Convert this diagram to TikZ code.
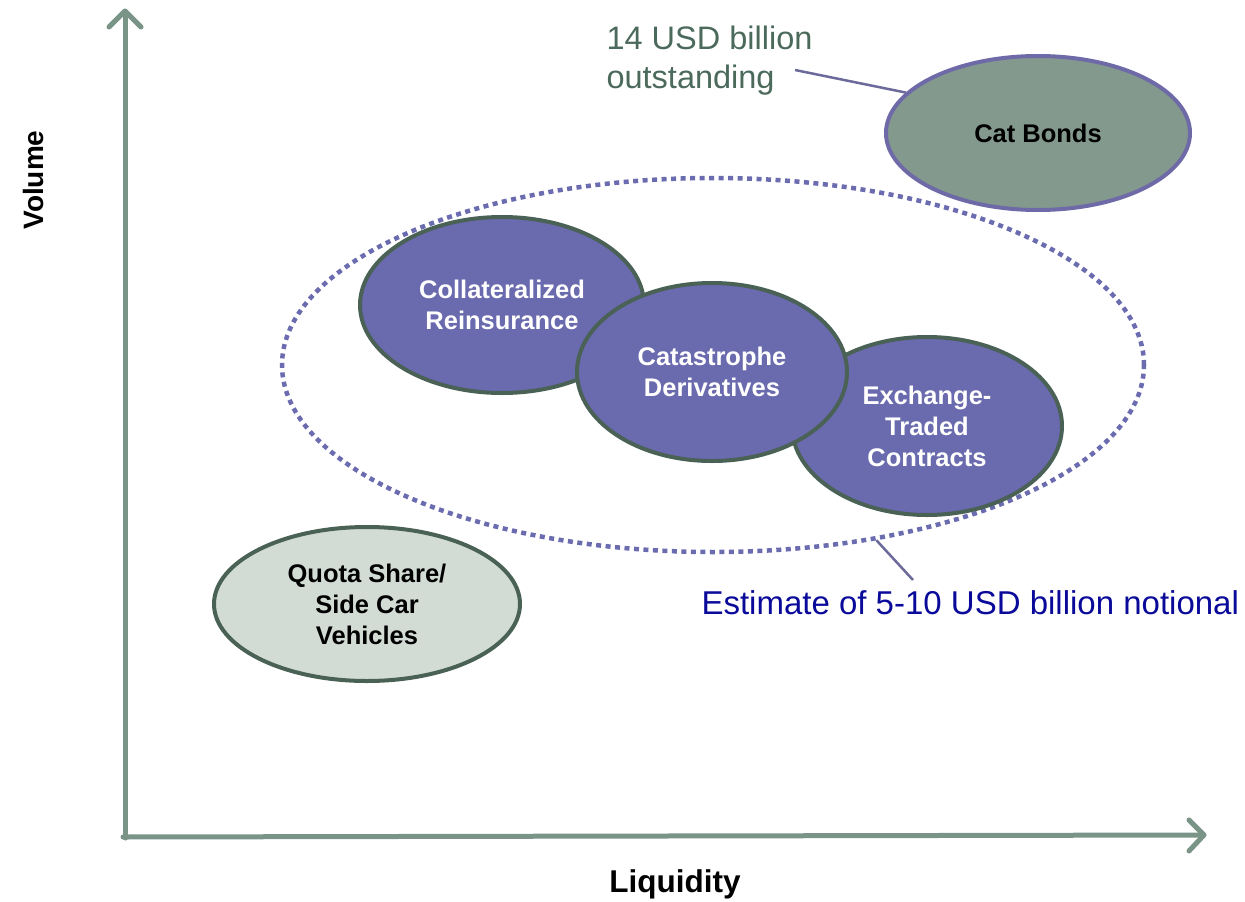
\documentclass[tikz,border=0pt]{standalone}
\usepackage{fontspec}
\setmainfont{Liberation Sans}
\usetikzlibrary{shapes.geometric}
\definecolor{axisgreen}{HTML}{7A9488}
\definecolor{rimgreen}{HTML}{4A6156}
\definecolor{bondfill}{HTML}{84998D}
\definecolor{rimpurple}{HTML}{6E6AA8}
\definecolor{violetfill}{HTML}{6A6AAE}
\definecolor{palefill}{HTML}{D2DCD5}
\definecolor{notegreen}{HTML}{4B6A5C}
\definecolor{navy}{HTML}{0A0A9A}
\definecolor{dotpurple}{HTML}{6B6BB0}
\definecolor{leader}{HTML}{6B6A9A}
\begin{document}
\begin{tikzpicture}[x=1pt,y=-1pt,
  axis/.style={draw=axisgreen,line width=5pt,line cap=round,line join=round},
  blob/.style={ellipse,inner sep=0pt,line width=4pt,align=center,
    font=\fontsize{25.5}{31}\selectfont\bfseries},
  market/.style={blob,fill=violetfill,draw=rimgreen,text=white},
  axislabel/.style={font=\fontsize{31.5}{36}\selectfont\bfseries,text=black},
  leaderline/.style={draw=leader,line width=2.5pt}]
\useasboundingbox (0,0) rectangle (1245,902);

% axes with open chevron heads
\draw[axis] (125,838) -- (125,12);
\draw[axis] (109,27) -- (125,11) -- (141,27);
\draw[axis] (123,837) -- (1203,835);
\draw[axis] (1189,820) -- (1204,835) -- (1189,851);
\node[axislabel,rotate=90,font=\fontsize{28}{34}\selectfont\bfseries] (vol) at (33,180) {Volume};
\node[axislabel] (liq) at (675,884) {Liquidity};

% dotted envelope around the traded instruments
\node[ellipse,draw=dotpurple,line width=4.5pt,dash pattern=on 5pt off 4.5pt,
  minimum width=862pt,minimum height=374pt,inner sep=0pt] (pool) at (713,365) {};

% cat bonds
\node[blob,fill=bondfill,draw=rimpurple,text=black,
  minimum width=304pt,minimum height=154pt] (cat) at (1038,133) {Cat Bonds};

% traded instruments (middle one drawn last, on top)
\node[market,minimum width=284pt,minimum height=176pt] (coll) at (502,305)
  {Collateralized\\Reinsurance};
\node[market,minimum width=270pt,minimum height=178pt] (exch) at (927,426)
  {Exchange-\\Traded\\Contracts};
\node[market,minimum width=270pt,minimum height=178pt] (deriv) at (712,372)
  {Catastrophe\\Derivatives};

% quota share
\node[blob,fill=palefill,draw=rimgreen,text=black,
  minimum width=306pt,minimum height=154pt] (quota) at (367,604)
  {Quota Share/\\Side Car\\Vehicles};

% annotations
\node[anchor=north west,align=left,text=notegreen,
  font=\fontsize{32.5}{39}\selectfont] (outst) at (603,22)
  {14 USD billion\\outstanding};
\coordinate (outstend) at (795,70);
\draw[leaderline] (outstend) -- (cat.163);

\node[anchor=west,text=navy,font=\fontsize{33}{39}\selectfont] (notional)
  at (698,603) {Estimate of 5-10 USD billion notional};
\coordinate (notionalend) at (913,580);
\draw[leaderline] (pool.-47) -- (notionalend);
\end{tikzpicture}
\end{document}
